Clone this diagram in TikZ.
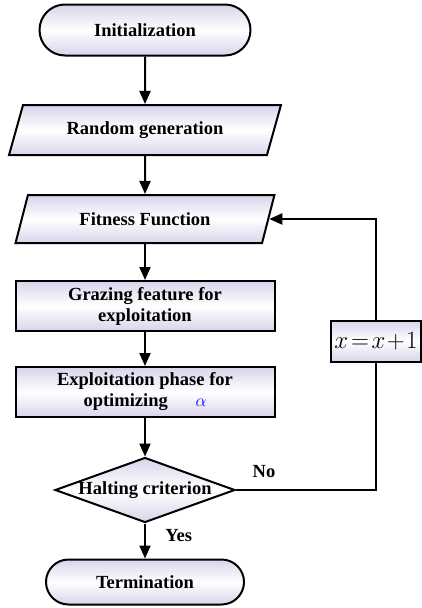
\documentclass[tikz,border=0pt]{standalone}
\usepackage{fontspec}
\setmainfont{Liberation Serif}
\usetikzlibrary{shapes.geometric,shapes.misc,arrows.meta}
\definecolor{lav}{RGB}{218,211,234}

\begin{document}
\begin{tikzpicture}[x=1pt, y=1pt, node distance=88pt,
	every node/.style={font=\fontsize{18.5}{21}\selectfont\bfseries, align=center},
	box/.style={draw, line width=2pt, top color=lav, bottom color=lav, middle color=white, inner sep=0pt},
	term/.style={box, rounded rectangle},
	io/.style={box, trapezium, trapezium left angle=62, trapezium right angle=118, trapezium stretches=true},
	proc/.style={box, rectangle, minimum width=259pt, minimum height=50pt},
	decide/.style={box, diamond, aspect=2.77, inner xsep=-9pt, minimum width=180pt, minimum height=65pt},
	arr/.style={line width=2pt, -{Triangle[length=13pt,width=11pt]}}]
		\useasboundingbox (0,0) rectangle (422,-608);
		\node[term, minimum width=211pt, minimum height=51pt] (init) at (145,-30) {Initialization};
		\node[io, below of=init, node distance=100pt, minimum width=272pt, minimum height=50pt] (rand) {Random generation};
		\node[io, below of=rand, node distance=89pt, minimum width=259pt, minimum height=48pt] (fit) {Fitness Function};
		\node[proc, below of=fit, node distance=87pt] (graze) {Grazing feature for\\exploitation};
		\node[proc, below of=graze, node distance=86pt] (exploit) {Exploitation phase for\\optimizing\quad\ \ {\color{blue}$\alpha$}};
		\node[decide, below of=exploit, node distance=98pt] (halt) {Halting criterion};
		\node[term, below of=halt, node distance=92pt, minimum width=198pt, minimum height=45pt] (stop) {Termination};
		\node[box, minimum width=90pt, minimum height=41pt, font=\fontsize{23}{25}\selectfont] (incr) at (376,-341) {$x\!=\!x\!+\!1$};
		
		\draw[arr] (init) -- (rand);
		\draw[arr] (rand) -- (fit);
		\draw[arr] (fit) -- (graze);
		\draw[arr] (graze) -- (exploit);
		\draw[arr] (exploit) -- (halt);
		\draw[arr] (halt) -- node[right, xshift=16pt, yshift=5pt] (yes) {Yes} (stop);
		\draw[line width=2pt] (halt.east) -- node[above, pos=0.2, yshift=8pt] (no) {No} (halt.east -| incr.south) -- (incr.south);
		\draw[arr] (incr.north) |- (fit.east);
	\end{tikzpicture}
\end{document}
